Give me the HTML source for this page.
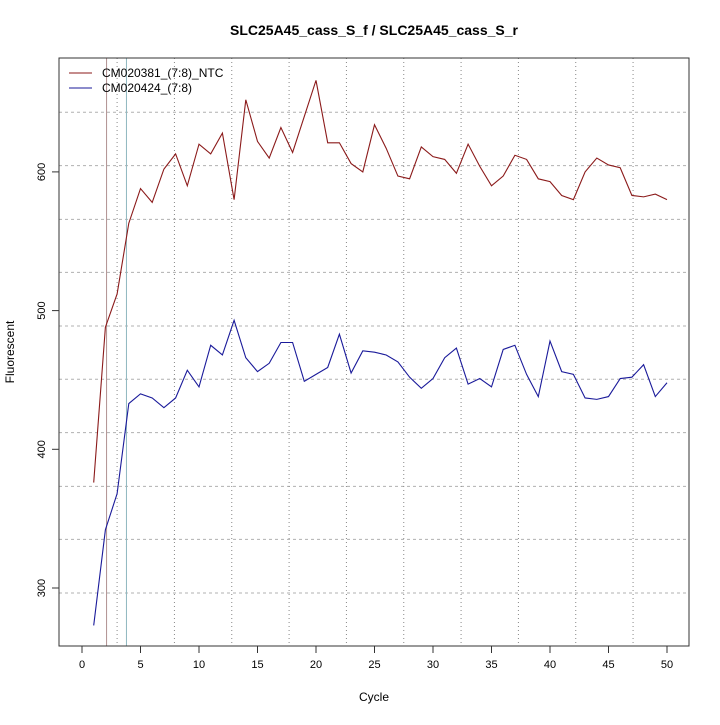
<!DOCTYPE html>
<html><head><meta charset="utf-8"><style>
body{margin:0;background:#fff;}
svg text{font-family:"Liberation Sans",sans-serif;}
</style></head><body>
<svg id="chart" width="720" height="720" viewBox="0 0 720 720">
<rect width="720" height="720" fill="#fff"/>
<text x="374" y="35" text-anchor="middle" font-size="14" font-weight="bold">SLC25A45_cass_S_f / SLC25A45_cass_S_r</text>
<text x="374" y="701" text-anchor="middle" font-size="12">Cycle</text>
<text x="14" y="352" text-anchor="middle" font-size="12" transform="rotate(-90 14 352)">Fluorescent</text>
<g id="grid"></g>
<g id="axes"></g>
<g id="series"></g>
<rect x="59" y="58" width="630" height="588" fill="none" stroke="#333" stroke-width="1"/>
<g>
<line x1="69" y1="73" x2="92" y2="73" stroke="#8b1a1a" stroke-width="1"/>
<text x="102" y="77" font-size="12">CM020381_(7:8)_NTC</text>
<line x1="69" y1="88" x2="92" y2="88" stroke="#1a1a9a" stroke-width="1"/>
<text x="102" y="92" font-size="12">CM020424_(7:8)</text>
</g>
</svg>
<script>
const cycles = Array.from({length:50},(_,i)=>i+1);
const ntcValues = [376,488,512,563,588,578,602,613,590,620,613,628,580,652,622,610,632,614,640,666,621,621,606,600,634,617,597,595,618,611,609,599,620,604,590,597,612,609,595,593,583,580,600,610,605,603,583,582,584,580];
const sampleValues = [273,342,368,433,440,437,430,437,457,445,475,468,493,466,456,462,477,477,449,454,459,483,455,471,470,468,463,452,444,451,466,473,447,451,445,472,475,454,438,478,456,454,437,436,438,451,452,461,438,448];
const xTicks = [0,5,10,15,20,25,30,35,40,45,50];
const yTicks = [300,400,500,600];
const xGrid = [3.0,7.9,12.8,17.7,22.6,27.5,32.4,37.3,42.2,47.1];
const yGrid = [296.4,335.1,373.3,412.0,450.5,488.9,527.6,565.8,604.5,643.0];
const thresholdCycles = [2.1,3.8];

const X = c => 82 + c*11.7;
const Y = v => 588 - (v-300)*1.387;
const NS='http://www.w3.org/2000/svg';
function mk(tag,attrs,parent){const e=document.createElementNS(NS,tag);for(const k in attrs)e.setAttribute(k,attrs[k]);parent.appendChild(e);return e;}
const grid=document.getElementById('grid'), axes=document.getElementById('axes'), series=document.getElementById('series');

yGrid.forEach(v=>{const y=Y(v);if(y<58||y>646)return;
 const l=mk('line',{x1:59,x2:689,y1:y,y2:y,stroke:'#b0b0b0','stroke-dasharray':'3,3'},grid);
 
 });
xGrid.forEach(c=>{const x=X(c);
 const l=mk('line',{x1:x,x2:x,y1:58,y2:646,stroke:'#888','stroke-dasharray':'1,3'},grid);
 
 });
const thColors=['#b09090','#90b8c0'];
thresholdCycles.forEach((c,i)=>{const x=X(c);
 const l=mk('line',{x1:x,x2:x,y1:58,y2:646,stroke:thColors[i],'stroke-width':1},grid);
 
 });

xTicks.forEach(t=>{const x=X(t);
 const l=mk('line',{x1:x,x2:x,y1:646,y2:653,stroke:'#333'},axes);
 
 
 const tx=mk('text',{x:x,y:668,'text-anchor':'middle','font-size':11},axes);tx.textContent=t;
 
 });
yTicks.forEach(t=>{const y=Y(t);
 const l=mk('line',{x1:52,x2:59,y1:y,y2:y,stroke:'#333'},axes);
 
 
 const tx=mk('text',{x:45,y:y,'text-anchor':'middle','font-size':11,transform:`rotate(-90 45 ${y})`},axes);tx.textContent=t;
 
 });

function line(vals,color,name){
 const p=mk('polyline',{points:vals.map((v,i)=>X(cycles[i])+','+Y(v)).join(' '),fill:'none',stroke:color,'stroke-width':1.1},series);
 
 }
line(ntcValues,'#8b1a1a','ntc-series-line');
line(sampleValues,'#1a1a9a','sample-series-line');
</script>
</body></html>
